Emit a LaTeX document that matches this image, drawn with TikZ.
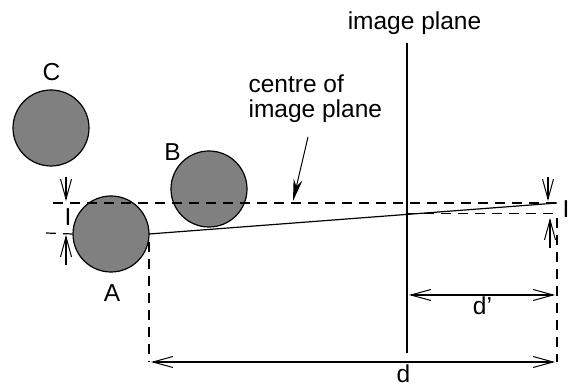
\documentclass[tikz,border=0pt]{standalone}
\usepackage{fontspec}
\setmainfont{Liberation Sans}
\usetikzlibrary{arrows.meta}
\begin{document}
\begin{tikzpicture}[x=1pt,y=-1pt,line width=1.2pt,
  ball/.style={circle,draw,fill=black!50,minimum size=76pt,inner sep=0pt},
  lbl/.style={font=\fontsize{24.5}{25}\selectfont,inner sep=0pt},
  dsh/.style={dash pattern=on 10pt off 7pt},
  barb/.style={-{Straight Barb[length=20pt,width=11pt,line width=1pt]}},
  dbarb/.style={{Straight Barb[length=20pt,width=11pt,line width=1pt]}-{Straight Barb[length=20pt,width=11pt,line width=1pt]}}]
\useasboundingbox (0,0) rectangle (568,387);
% balls
\node[ball] (C) at (51,128) {};
\node[ball] (B) at (209,189) {};
\node[ball] (A) at (111,234) {};
\node[lbl,anchor=base] (Cl) at (51.5,81) {C};
\node[lbl,anchor=base] (Bl) at (172.5,161) {B};
\node[lbl,anchor=base] (Al) at (112,302) {A};
% coordinates
\coordinate (tl) at (53,203);
\coordinate (tr) at (557,203);
\coordinate (bl) at (46,233);
\coordinate (ae) at (149,234);
\coordinate (pl) at (407,213.5);
\coordinate (pr) at (557,213.5);
\coordinate (ptop) at (407,43);
\coordinate (pbot) at (407,353);
% dashed lines
\draw[dsh] (tl) -- (tr);
\draw[dsh] (bl) -- (A.west);
\draw[dsh] (pl) -- (pr);
\coordinate (avt) at (149,242);
\coordinate (avb) at (149,362);
\coordinate (rvt) at (557,218);
\coordinate (rvb) at (557,362);
\draw[dsh] (avt) -- (avb);
\draw[dsh] (rvt) -- (rvb);
% ray
\draw (ae) -- (tr);
% image plane
\draw (ptop) -- (pbot);
\node[lbl,anchor=base] (ipl) at (414.5,30) {image plane};
% centre label and arrow
\node[lbl,align=left,anchor=north west] (cen) at (248,74) {centre of\\image plane};
\coordinate (cs) at (308,137);
\coordinate (ce) at (293,201);
\draw[-{Stealth[length=22pt,width=9pt]},line width=1pt] (cs) -- (ce);
% left I marker
\node[lbl,anchor=base] (li) at (68,226) {I};
\coordinate (la1) at (66,177);
\coordinate (la2) at (66,201);
\coordinate (lb1) at (66,265);
\coordinate (lb2) at (66,235);
\draw[barb] (la1) -- (la2);
\draw[barb] (lb1) -- (lb2);
% right I marker
\node[lbl,anchor=base] (ri) at (566,218) {I};
\coordinate (ra1) at (548,177);
\coordinate (ra2) at (548,201);
\coordinate (rb1) at (550,248);
\coordinate (rb2) at (550,218);
\draw[barb] (ra1) -- (ra2);
\draw[barb] (rb1) -- (rb2);
% d' and d
\coordinate (dp1) at (409,295);
\coordinate (dp2) at (555,295);
\draw[dbarb] (dp1) -- (dp2);
\node[lbl,anchor=base] (dpl) at (482.5,315) {d’};
\coordinate (d1) at (151,362);
\coordinate (d2) at (555,362);
\draw[dbarb] (d1) -- (d2);
\node[lbl,anchor=base] (dl) at (403.5,383) {d};
\end{tikzpicture}
\end{document}
